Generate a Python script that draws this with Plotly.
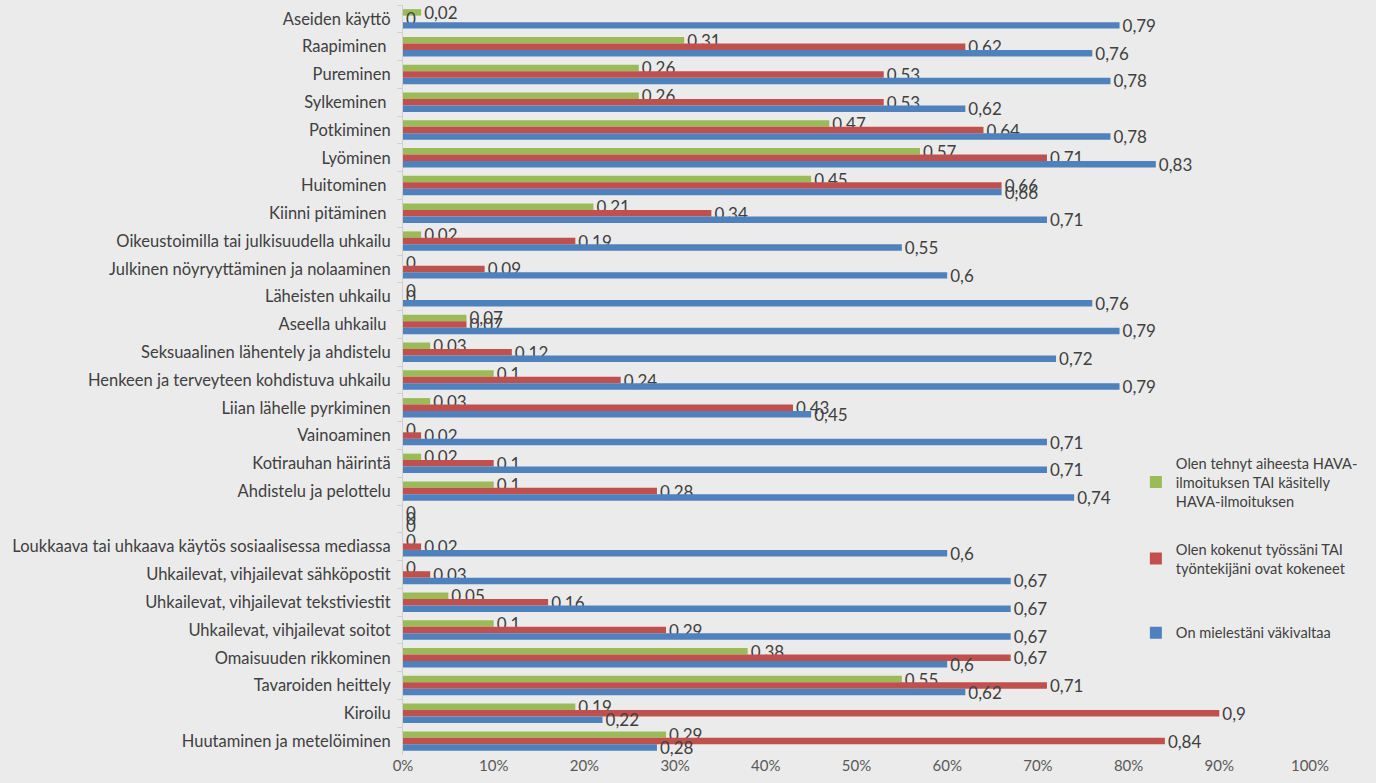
import plotly.graph_objects as go

NB = "\u00a0"
categories = [
    "Aseiden käyttö", "Raapiminen" + NB, "Pureminen", "Sylkeminen" + NB, "Potkiminen",
    "Lyöminen", "Huitominen" + NB, "Kiinni pitäminen" + NB,
    "Oikeustoimilla tai julkisuudella uhkailu",
    "Julkinen nöyryyttäminen ja nolaaminen", "Läheisten uhkailu",
    "Aseella uhkailu" + NB, "Seksuaalinen lähentely ja ahdistelu",
    "Henkeen ja terveyteen kohdistuva uhkailu", "Liian lähelle pyrkiminen",
    "Vainoaminen", "Kotirauhan häirintä", "Ahdistelu ja pelottelu", NB,
    "Loukkaava tai uhkaava käytös sosiaalisessa mediassa",
    "Uhkailevat, vihjailevat sähköpostit", "Uhkailevat, vihjailevat tekstiviestit",
    "Uhkailevat, vihjailevat soitot", "Omaisuuden rikkominen",
    "Tavaroiden heittely", "Kiroilu", "Huutaminen ja metelöiminen",
]

hava = [0.02, 0.31, 0.26, 0.26, 0.47, 0.57, 0.45, 0.21, 0.02, 0, 0, 0.07, 0.03,
        0.1, 0.03, 0, 0.02, 0.1, 0, 0, 0, 0.05, 0.1, 0.38, 0.55, 0.19, 0.29]
kokenut = [0, 0.62, 0.53, 0.53, 0.64, 0.71, 0.66, 0.34, 0.19, 0.09, 0, 0.07, 0.12,
           0.24, 0.43, 0.02, 0.1, 0.28, 0, 0.02, 0.03, 0.16, 0.29, 0.67, 0.71, 0.9, 0.84]
vakivaltaa = [0.79, 0.76, 0.78, 0.62, 0.78, 0.83, 0.66, 0.71, 0.55, 0.6, 0.76, 0.79,
              0.72, 0.79, 0.45, 0.71, 0.71, 0.74, 0, 0.6, 0.67, 0.67, 0.67, 0.6,
              0.62, 0.22, 0.28]

names = [
    "Olen tehnyt aiheesta HAVA-<br>ilmoituksen TAI käsitelly<br>HAVA-ilmoituksen",
    "Olen kokenut työssäni TAI<br>työntekijäni ovat kokeneet",
    "On mielestäni väkivaltaa",
]
colors = ["#9bbb59", "#c0504d", "#4f81bd"]
legend_ids = ["legend", "legend2", "legend3"]
legend_y = [0.364, 0.262, 0.163]

def fmt(v):
    return ("%g" % v).replace(".", ",")

FONT = "Lato"
fig = go.Figure()
series = [hava, kokenut, vakivaltaa]
for idx in range(3):
    vals = series[idx]
    fig.add_trace(go.Bar(
        y=categories, x=vals, orientation="h", name=names[idx],
        marker=dict(color=colors[idx], line=dict(width=0)),
        text=[fmt(v) for v in vals], textposition="outside",
        textfont=dict(family=FONT, size=17, color="#404040"),
        constraintext="none", cliponaxis=False,
        legend=legend_ids[idx],
    ))

legend_common = dict(
    x=0.808, xanchor="left", yanchor="middle",
    bgcolor="rgba(0,0,0,0)",
    font=dict(family=FONT, size=14.6, color="#404040"),
    itemwidth=30,
)
layout_legends = {}
for lid, ly in zip(legend_ids, legend_y):
    layout_legends[lid] = dict(legend_common, y=ly)

fig.update_layout(
    width=1376, height=783,
    paper_bgcolor="#ebebeb", plot_bgcolor="#ebebeb",
    barmode="group", bargap=0.3, bargroupgap=0,
    margin=dict(l=403, r=66, t=5, b=28),
    font=dict(family=FONT, color="#595959"),
    showlegend=True,
    xaxis=dict(
        range=[0, 1], dtick=0.1, tickformat=".0%", showgrid=False,
        zeroline=False, showline=False, ticks="",
        tickfont=dict(family=FONT, size=15, color="#595959"),
    ),
    yaxis=dict(
        autorange="reversed", type="category", showgrid=False,
        showline=True, linecolor="#d0d0d0", linewidth=1,
        ticks="outside", tickson="boundaries", ticklen=5, tickcolor="#d0d0d0",
        ticklabelstandoff=8,
        tickfont=dict(family=FONT, size=16.5, color="#404040"),
    ),
    **layout_legends,
)

fig.write_html("out.html", config={"displayModeBar": False},
               post_script="document.body.style.margin='0';")
